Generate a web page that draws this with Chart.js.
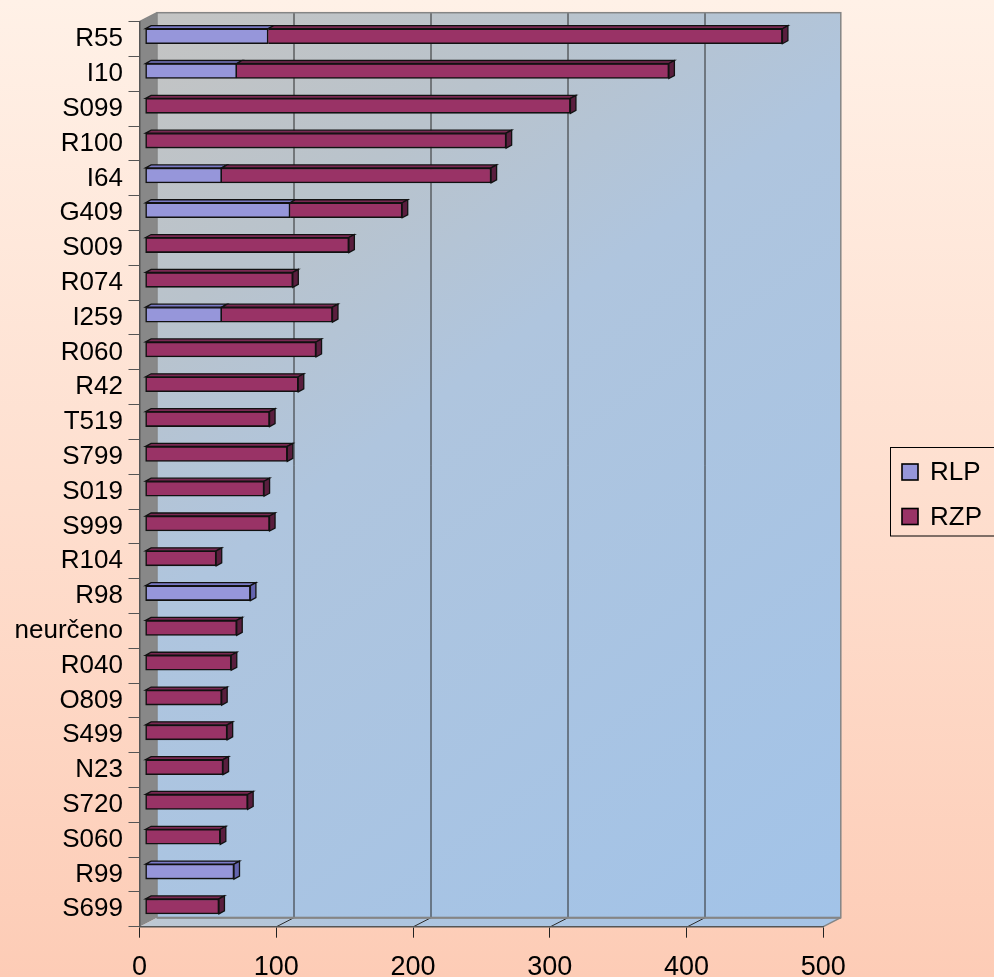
<!DOCTYPE html>
<html>
<head>
<meta charset="utf-8">
<script src="https://cdn.jsdelivr.net/npm/chart.js@4/dist/chart.umd.min.js"></script>
<style>
html,body{margin:0;padding:0;}
body{width:994px;height:977px;overflow:hidden;background:linear-gradient(to bottom,#FFF1E7 0%,#FEDFCF 50%,#FDCCB6 100%);}
canvas{display:block;}
</style>
</head>
<body>
<canvas id="c" width="994" height="977"></canvas>
<script>
// ---- data ----
const categories = ['R55','I10','S099','R100','I64','G409','S009','R074','I259','R060','R42','T519','S799','S019','S999','R104','R98','neurčeno','R040','O809','S499','N23','S720','S060','R99','S699'];
const rlpValues = [90,67,null,null,56,106,null,null,56,null,null,null,null,null,null,null,77,null,null,null,null,null,null,null,65,null];
const rzpValues = [376,316,311,264,197,82,149,108,81,125,112,91,104,87,91,52,null,67,63,56,60,57,75,55,null,54];
const xTickValues = [0,100,200,300,400,500];
const seriesNames = ['RLP','RZP'];

// ---- styling ----
const FONT = '"Liberation Sans", Arial, Helvetica, sans-serif';
const WALL_DX = 17.5, WALL_DY = -9;     // depth of the 3D box
const BAR_OX = 5.6, BAR_OY = -2.9;      // bar front-face offset from the front plane
const BAR_DX = 5.5, BAR_DY = -3.0;      // bar depth
const colors = {
  RLP: {front:'#9696DA', top:'#7A7AC6', side:'#6464AE'},
  RZP: {front:'#993366', top:'#7A2852', side:'#5A1E3E'}
};

const threeD = {
  id: 'threeD',
  beforeDraw(chart) {
    const ctx = chart.ctx;
    const a = chart.chartArea;
    const xs = chart.scales.x;
    const L = a.left, R = a.right, T = a.top, B = a.bottom;
    ctx.save();
    // back wall
    const g = ctx.createLinearGradient(L + WALL_DX, T + WALL_DY, R + WALL_DX, B + WALL_DY);
    g.addColorStop(0, '#C4C4C3');
    g.addColorStop(0.22, '#B9C3CC');
    g.addColorStop(0.42, '#AFC5DE');
    g.addColorStop(1, '#A2C3E8');
    ctx.fillStyle = g;
    ctx.fillRect(L + WALL_DX, T + WALL_DY, R - L, B - T);
    // side wall
    ctx.fillStyle = '#888888';
    ctx.beginPath();
    ctx.moveTo(L, T); ctx.lineTo(L + WALL_DX, T + WALL_DY);
    ctx.lineTo(L + WALL_DX, B + WALL_DY); ctx.lineTo(L, B); ctx.closePath();
    ctx.fill();
    // floor
    const fg = ctx.createLinearGradient(L, B, R, B);
    fg.addColorStop(0, '#BEC8D2');
    fg.addColorStop(0.3, '#AFC5DE');
    fg.addColorStop(1, '#A6C4E6');
    ctx.fillStyle = fg;
    ctx.beginPath();
    ctx.moveTo(L, B); ctx.lineTo(R, B); ctx.lineTo(R + WALL_DX, B + WALL_DY);
    ctx.lineTo(L + WALL_DX, B + WALL_DY); ctx.closePath();
    ctx.fill();
    // gridlines on back wall and floor
    ctx.strokeStyle = '#2A2A2A';
    ctx.lineWidth = 1;
    xTickValues.forEach(v => {
      if (v === xTickValues[0] || v === xTickValues[xTickValues.length - 1]) return;
      const px = Math.round(xs.getPixelForValue(v)) + 0.5;
      ctx.beginPath();
      ctx.moveTo(px + WALL_DX, T + WALL_DY);
      ctx.lineTo(px + WALL_DX, B + WALL_DY);
      ctx.lineTo(px, B);
      ctx.stroke();
    });
    // box edges
    ctx.strokeStyle = '#858585';
    ctx.lineWidth = 1.5;
    ctx.strokeRect(L + WALL_DX, T + WALL_DY, R - L, B - T);
    ctx.beginPath();
    ctx.moveTo(L, T); ctx.lineTo(L + WALL_DX, T + WALL_DY);
    ctx.moveTo(R, B); ctx.lineTo(R + WALL_DX, B + WALL_DY);
    ctx.stroke();
    ctx.lineWidth = 2;
    ctx.beginPath();
    ctx.moveTo(L + WALL_DX, B + WALL_DY); ctx.lineTo(R + WALL_DX, B + WALL_DY);
    ctx.stroke();
    ctx.restore();
  },
  beforeDatasetsDraw(chart) {
    chart.ctx.save();
    chart.ctx.translate(BAR_OX, BAR_OY);
  },
  afterDatasetsDraw(chart) {
    const ctx = chart.ctx;
    const nDs = chart.data.datasets.length;
    for (let d = 0; d < nDs; d++) {
      const meta = chart.getDatasetMeta(d);
      const c = colors[chart.data.datasets[d].label];
      meta.data.forEach((el, i) => {
        const val = chart.data.datasets[d].data[i];
        if (val == null) return;
        const p = el.getProps(['x', 'y', 'base', 'height'], true);
        const x0 = Math.min(p.x, p.base), x1 = Math.max(p.x, p.base);
        const yt = p.y - p.height / 2, yb = p.y + p.height / 2;
        ctx.lineWidth = 1.3;
        ctx.strokeStyle = '#111111';
        ctx.lineJoin = 'miter';
        // top face
        ctx.fillStyle = c.top;
        ctx.beginPath();
        ctx.moveTo(x0, yt); ctx.lineTo(x1, yt);
        ctx.lineTo(x1 + BAR_DX, yt + BAR_DY); ctx.lineTo(x0 + BAR_DX, yt + BAR_DY);
        ctx.closePath(); ctx.fill(); ctx.stroke();
        // side face only for the last segment of a stack
        let last = true;
        for (let k = d + 1; k < nDs; k++) {
          if (chart.data.datasets[k].data[i] != null) last = false;
        }
        if (last) {
          ctx.fillStyle = c.side;
          ctx.beginPath();
          ctx.moveTo(x1, yt); ctx.lineTo(x1 + BAR_DX, yt + BAR_DY);
          ctx.lineTo(x1 + BAR_DX, yb + BAR_DY); ctx.lineTo(x1, yb);
          ctx.closePath(); ctx.fill(); ctx.stroke();
        }
      });
    }
    ctx.restore();
  },
  afterDraw(chart) {
    // legend
    const ctx = chart.ctx;
    ctx.save();
    ctx.strokeStyle = '#000';
    ctx.lineWidth = 1;
    ctx.strokeRect(890.5, 447.5, 140, 88.5);
    const rows = [472, 516.5];
    chart.data.datasets.forEach((ds, i) => {
      const y = rows[i];
      ctx.fillStyle = colors[ds.label].front;
      ctx.fillRect(902, y - 8, 16, 16);
      ctx.lineWidth = 1.6;
      ctx.strokeStyle = '#000';
      ctx.strokeRect(902, y - 8, 16, 16);
      ctx.fillStyle = '#000';
      ctx.font = '26px ' + FONT;
      ctx.textBaseline = 'middle';
      ctx.textAlign = 'left';
      ctx.fillText(ds.label, 930, y + 1);
    });
    ctx.restore();
  }
};

new Chart(document.getElementById('c'), {
  type: 'bar',
  data: {
    labels: categories,
    datasets: [
      {label: seriesNames[0], data: rlpValues, backgroundColor: colors.RLP.front, borderColor: '#111', borderWidth: 1.6,
       borderSkipped: false, barThickness: 15},
      {label: seriesNames[1], data: rzpValues, backgroundColor: colors.RZP.front, borderColor: '#111', borderWidth: 1.6,
       borderSkipped: (ctx) => (rlpValues[ctx.dataIndex] != null ? 'start' : false), barThickness: 15}
    ]
  },
  options: {
    indexAxis: 'y',
    responsive: false,
    animation: false,
    devicePixelRatio: 1,
    layout: {padding: {top: 21.7, right: 170.7, bottom: 0, left: 0}},
    plugins: {legend: {display: false}, tooltip: {enabled: false}},
    scales: {
      x: {
        stacked: true, min: 0, max: 500,
        afterBuildTicks: (s) => { s.ticks = xTickValues.map(v => ({value: v})); },
        afterFit: (s) => { s.height = 50.3; },
        grid: {drawOnChartArea: false, tickLength: 11, color: '#222', lineWidth: 1},
        border: {display: true, color: '#555', width: 1.5},
        ticks: {font: {size: 27, family: FONT}, color: '#000', padding: 14, maxRotation: 0}
      },
      y: {
        stacked: true,
        afterFit: (s) => { s.width = 139.5; },
        grid: {offset: true, drawOnChartArea: false, tickLength: 11, color: '#555', lineWidth: 1},
        border: {display: true, color: '#555', width: 1.5},
        ticks: {font: {size: 26, family: FONT}, color: '#000', padding: 5.5, autoSkip: false}
      }
    }
  },
  plugins: [threeD]
});
</script>
</body>
</html>
